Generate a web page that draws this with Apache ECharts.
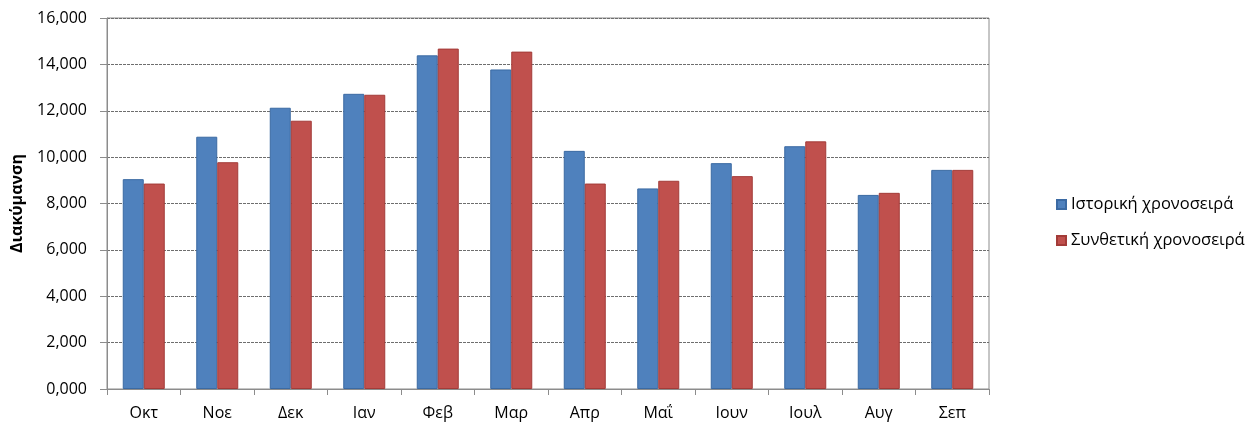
<!DOCTYPE html>
<html>
<head>
<meta charset="utf-8">
<script src="https://cdn.jsdelivr.net/npm/echarts@6/dist/echarts.min.js"></script>
<style>html,body{margin:0;padding:0;background:#fff;}#c{width:1248px;height:425px;}</style>
</head>
<body>
<div id="c"></div>
<script>
const categories = ['Οκτ','Νοε','Δεκ','Ιαν','Φεβ','Μαρ','Απρ','Μαΐ','Ιουν','Ιουλ','Αυγ','Σεπ'];
const historical = [9050, 10880, 12130, 12730, 14390, 13780, 10270, 8650, 9740, 10470, 8370, 9450];
const synthetic  = [8860, 9780, 11570, 12690, 14680, 14550, 8860, 8980, 9180, 10680, 8460, 9450];
const yTickLabels = ['0,000','2,000','4,000','6,000','8,000','10,000','12,000','14,000','16,000'];
const seriesNames = ['Ιστορική χρονοσειρά','Συνθετική χρονοσειρά'];
const yAxisTitle = 'Διακύμανση';

const FONT = 'Open Sans';
const chart = echarts.init(document.getElementById('c'), null, {renderer:'canvas'});
chart.setOption({
  animation: false,
  textStyle: {fontFamily: FONT, color: '#000'},
  grid: {left: 107, right: 259, top: 18, bottom: 36, show: true, borderColor: '#8c8c8c', borderWidth: 1, containLabel: false},
  legend: {
    orient: 'vertical', left: 1051, top: 190,
    itemWidth: 9, itemHeight: 9, itemGap: 17,
    icon: 'rect',
    textStyle: {fontFamily: FONT, fontSize: 16.5, color: '#000', lineHeight: 19},
    data: seriesNames
  },
  xAxis: {
    type: 'category', data: categories,
    axisLine: {lineStyle: {color: '#8c8c8c'}},
    axisTick: {show: true, length: 6, lineStyle: {color: '#8c8c8c'}},
    axisLabel: {fontFamily: FONT, fontSize: 16, color: '#000', margin: 16}
  },
  yAxis: {
    type: 'value', min: 0, max: 16000, interval: 2000,
    name: yAxisTitle, nameLocation: 'middle', nameGap: 82, nameRotate: 90,
    nameTextStyle: {fontFamily: FONT, fontSize: 16, fontWeight: 'bold', color: '#000'},
    axisLine: {show: true, lineStyle: {color: '#8c8c8c'}},
    axisTick: {show: true, length: 7, lineStyle: {color: '#8c8c8c'}},
    axisLabel: {fontFamily: FONT, fontSize: 16, color: '#000', margin: 20,
      formatter: v => yTickLabels[Math.round(v / 2000)]},
    splitLine: {show: true, lineStyle: {color: '#6e6e6e', type: [3, 1], width: 1}}
  },
  series: [
    {name: seriesNames[0], type: 'bar', data: historical, barWidth: 21, barGap: '0%',
     itemStyle: {color: '#4F81BD', borderColor: '#3b6aa3', borderWidth: 1}},
    {name: seriesNames[1], type: 'bar', data: synthetic, barWidth: 21, barGap: '0%',
     itemStyle: {color: '#C0504D', borderColor: '#a33b38', borderWidth: 1}}
  ]
});
</script>
</body>
</html>
